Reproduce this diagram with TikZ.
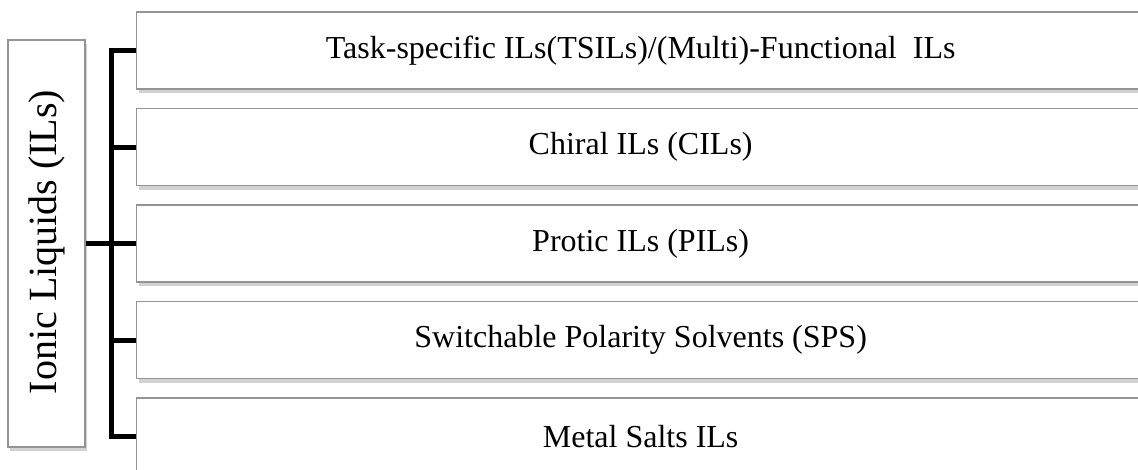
\documentclass[tikz,border=0pt]{standalone}
\usepackage{fontspec}
\setmainfont{Liberation Serif}
\usetikzlibrary{shadows}
\tikzset{
  catbox/.style={draw=black!42, line width=1.3pt, fill=white, minimum width=1008pt, minimum height=77pt,
    inner sep=0pt, anchor=west, font=\fontsize{32}{38}\selectfont,
    drop shadow={shadow xshift=2pt, shadow yshift=-4pt, fill=black!35, opacity=0.5}},
  rootbox/.style={draw=black!42, line width=1.3pt, fill=white, minimum width=77pt, minimum height=407pt,
    inner sep=0pt, drop shadow={shadow xshift=2pt, shadow yshift=-4pt, fill=black!35, opacity=0.5}},
  conn/.style={line width=5pt, black, line join=miter, line cap=butt}
}
\begin{document}
\begin{tikzpicture}[x=1pt,y=-1pt]
\useasboundingbox (0,0) rectangle (1138,469);
\clip (0,0) rectangle (1138,469);
\fill[white] (0,0) rectangle (1138,469);
\node[rootbox] (L) at (46.5,243.5) {};
\node[rotate=90, font=\fontsize{40}{46}\selectfont] (Lt) at (47,242) {Ionic Liquids (ILs)};
\node[catbox] (b1) at (136,50.5) {Task-specific ILs(TSILs)/(Multi)-Functional\ \ ILs};
\node[catbox] (b2) at (136,147) {Chiral ILs (CILs)};
\node[catbox] (b3) at (136,243.5) {Protic ILs (PILs)};
\node[catbox] (b4) at (136,340) {Switchable Polarity Solvents (SPS)};
\node[catbox] (b5) at (136,436.5) {Metal Salts ILs};
\draw[conn] (b1.west) -- ++(-25,0) |- (b5.west);
\draw[conn] (b2.west) -- ++(-25,0);
\draw[conn] (b4.west) -- ++(-25,0);
\draw[conn] (L.east) -- (b3.west);
\end{tikzpicture}
\end{document}
